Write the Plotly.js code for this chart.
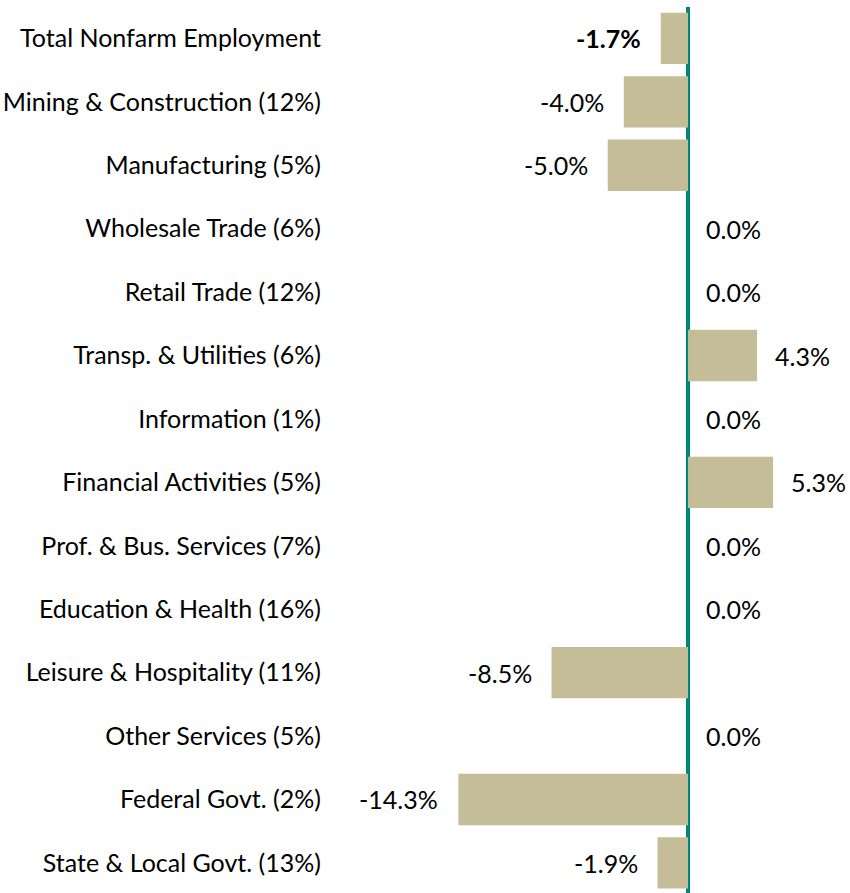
<!DOCTYPE html>
<html><head><meta charset="utf-8">
<script src="https://cdn.plot.ly/plotly-3.0.1.min.js"></script>
<style>html,body{margin:0;padding:0;background:#fff}</style>
</head><body><div id="chart" style="width:850px;height:893px"></div>
<script>
const categories = ["Total Nonfarm Employment","Mining & Construction (12%)","Manufacturing (5%)","Wholesale Trade (6%)","Retail Trade (12%)","Transp. & Utilities (6%)","Information (1%)","Financial Activities (5%)","Prof. & Bus. Services (7%)","Education & Health (16%)","Leisure & Hospitality (11%)","Other Services (5%)","Federal Govt. (2%)","State & Local Govt. (13%)"];
const values = [-1.7,-4.0,-5.0,0.0,0.0,4.3,0.0,5.3,0.0,0.0,-8.5,0.0,-14.3,-1.9];
const valueLabels = ["<b>-1.7%</b>","-4.0%","-5.0%","0.0%","0.0%","4.3%","0.0%","5.3%","0.0%","0.0%","-8.5%","0.0%","-14.3%","-1.9%"];

const FONT = "Lato, 'Open Sans', sans-serif";
const trace = {
  type: "bar", orientation: "h",
  x: values, y: categories,
  marker: {color: "#C4BD97"},
  width: 0.81,
  hoverinfo: "none"
};
const annotations = values.map((v,i)=>({
  x: v, y: categories[i], xref: "x", yref: "y",
  text: valueLabels[i], showarrow: false,
  xanchor: v < 0 ? "right" : "left",
  xshift: v < 0 ? -18 : 16,
  font: {family: FONT, size: 25, color: "#000"}
}));
const layout = {
  width: 850, height: 893,
  margin: {l: 330, r: 0, t: 7, b: 0},
  paper_bgcolor: "#fff", plot_bgcolor: "#fff",
  showlegend: false,
  xaxis: {range: [-22.3, 10.09], showgrid: false, showticklabels: false, ticks: "",
          zeroline: true, zerolinecolor: "#00857C", zerolinewidth: 4, fixedrange: true},
  yaxis: {type: "category", range: [13.475, -0.495], showgrid: false, zeroline: false,
          ticks: "", ticklabelstandoff: 8,
          tickfont: {family: FONT, size: 25, color: "#000"}, fixedrange: true},
  annotations: annotations
};
Plotly.newPlot("chart", [trace], layout, {displayModeBar: false, staticPlot: true});
</script></body></html>
